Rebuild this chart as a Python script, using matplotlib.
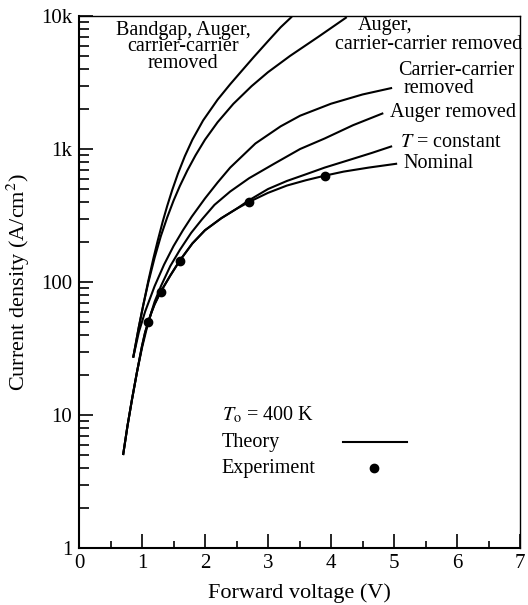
import matplotlib
matplotlib.use('Agg')
import matplotlib.pyplot as plt
from matplotlib.ticker import FixedLocator, NullFormatter

plt.rcParams['font.family'] = ['Liberation Serif', 'DejaVu Serif']
plt.rcParams['mathtext.fontset'] = 'stix'

# Curves (forward voltage in V, current density in A/cm^2)
v_bandgap = [0.86, 0.95, 1.02, 1.10, 1.18, 1.25, 1.33, 1.40, 1.48, 1.57, 1.68,
             1.80, 1.97, 2.20, 2.40, 2.60, 2.77, 3.00, 3.20, 3.38]
j_bandgap = [27, 46, 67, 102, 150, 205, 286, 373, 492, 652, 883,
             1175, 1640, 2350, 3070, 3950, 4890, 6470, 8220, 9900]

v_auger_cc = [0.86, 0.95, 1.02, 1.10, 1.20, 1.30, 1.40, 1.50, 1.60, 1.72, 1.85,
              2.00, 2.20, 2.45, 2.74, 3.00, 3.35, 3.80, 4.25]
j_auger_cc = [27, 46, 67, 99, 152, 222, 306, 408, 526, 690, 897,
              1175, 1590, 2185, 2970, 3780, 5010, 6980, 9800]

v_cc = [0.86, 0.95, 1.05, 1.20, 1.35, 1.50, 1.65, 1.79, 2.00, 2.20, 2.40, 2.80,
        3.20, 3.51, 4.00, 4.50, 4.97]
j_cc = [27, 42, 60, 93, 135, 186, 245, 310, 425, 560, 725, 1100,
        1480, 1780, 2190, 2570, 2880]

v_auger = [0.70, 0.77, 0.84, 0.92, 1.00, 1.10, 1.20, 1.30, 1.45, 1.60, 1.78, 1.95,
           2.15, 2.40, 2.70, 3.10, 3.51, 3.90, 4.35, 4.83]
j_auger = [5, 8.3, 13, 21, 32, 50, 71, 93, 132, 174, 234, 295,
           380, 479, 603, 776, 1000, 1200, 1510, 1860]

v_tconst = [0.70, 0.77, 0.84, 0.92, 1.00, 1.05, 1.10, 1.15, 1.20, 1.30, 1.45, 1.60,
            1.80, 2.00, 2.26, 2.50, 2.70, 3.00, 3.30, 3.60, 3.90, 4.30, 4.65, 4.97]
j_tconst = [5, 8.3, 13, 21, 33, 42, 50, 59, 68, 85, 112, 145,
            195, 245, 302, 355, 412, 500, 575, 645, 725, 830, 935, 1050]

v_nominal = [0.70, 0.77, 0.84, 0.92, 1.00, 1.05, 1.10, 1.15, 1.20, 1.30, 1.45, 1.60,
             1.80, 2.00, 2.26, 2.50, 2.70, 3.00, 3.30, 3.60, 3.90, 4.20, 4.60, 5.05]
j_nominal = [5, 8.3, 13, 21, 33, 42, 50, 59, 68, 85, 112, 145,
             195, 245, 302, 355, 400, 468, 531, 582, 630, 676, 725, 776]

# Experimental points
v_exp = [1.1, 1.3, 1.6, 2.7, 3.9]
j_exp = [50, 84, 145, 400, 630]

y_ticks = [1, 10, 100, 1000, 10000]
y_tick_labels = ['1', '10', '100', '1k', '10k']

fig = plt.figure(figsize=(5.28, 6.05), dpi=100)
ax = fig.add_axes([79 / 528, 57 / 605, 441 / 528, 532 / 605])

lw = 1.5
for v, j in [(v_bandgap, j_bandgap), (v_auger_cc, j_auger_cc), (v_cc, j_cc),
             (v_auger, j_auger), (v_tconst, j_tconst), (v_nominal, j_nominal)]:
    ax.plot(v, j, color='black', linewidth=lw, solid_capstyle='butt')
ax.plot(v_exp, j_exp, 'o', color='black', markersize=6)

ax.set_yscale('log')
ax.set_xlim(0, 7)
ax.set_ylim(1, 10000)
ax.set_yticks(y_ticks)
ax.set_yticklabels(y_tick_labels)
minor = [m * 10 ** e for e in range(4) for m in range(2, 10)]
ax.yaxis.set_minor_locator(FixedLocator(minor))
ax.yaxis.set_minor_formatter(NullFormatter())
ax.set_xticks(range(8))
ax.set_xticks([0.5 + i for i in range(7)], minor=True)

ax.tick_params(which='both', direction='in', top=False, right=False, width=1.2)
ax.tick_params(which='major', length=10, labelsize=15)
ax.tick_params(axis='y', which='major', pad=5)
ax.tick_params(axis='x', which='major', pad=4)
ax.tick_params(axis='y', which='minor', length=7)
ax.tick_params(axis='x', which='minor', length=5)
for s in ['left', 'bottom']:
    ax.spines[s].set_linewidth(1.5)
for s in ['top', 'right']:
    ax.spines[s].set_linewidth(1.0)

ax.set_xlabel('Forward voltage (V)', fontsize=16, labelpad=8)
ax.set_ylabel('Current density (A/cm$^2$)', fontsize=16, labelpad=6)

fs = 14.5
ax.text(0.236, 0.942, 'Bandgap, Auger,\ncarrier-carrier\nremoved', transform=ax.transAxes,
        ha='center', va='center', multialignment='center', fontsize=fs, linespacing=0.8)
ax.text(0.633, 0.982, 'Auger,', transform=ax.transAxes, ha='left', va='center', fontsize=fs)
ax.text(1.005, 0.947, 'carrier-carrier removed', transform=ax.transAxes,
        ha='right', va='center', fontsize=fs, clip_on=False)
ax.text(0.723, 0.897, 'Carrier-carrier', transform=ax.transAxes, ha='left', va='center', fontsize=fs)
ax.text(0.737, 0.864, 'removed', transform=ax.transAxes, ha='left', va='center', fontsize=fs)
ax.text(0.705, 0.818, 'Auger removed', transform=ax.transAxes, ha='left', va='center', fontsize=fs)
ax.text(0.728, 0.763, '$T$ = constant', transform=ax.transAxes, ha='left', va='center', fontsize=fs)
ax.text(0.735, 0.722, 'Nominal', transform=ax.transAxes, ha='left', va='center', fontsize=fs)

# legend block
ax.text(0.324, 0.250, '$T_\\mathrm{o}$ = 400 K', transform=ax.transAxes, ha='left', va='center', fontsize=fs)
ax.text(0.324, 0.199, 'Theory', transform=ax.transAxes, ha='left', va='center', fontsize=fs)
ax.text(0.324, 0.150, 'Experiment', transform=ax.transAxes, ha='left', va='center', fontsize=fs)
ax.plot([0.599, 0.744], [0.199, 0.199], color='black', linewidth=lw, transform=ax.transAxes)
ax.plot([0.669], [0.150], 'o', color='black', markersize=6, transform=ax.transAxes)

fig.savefig('out.png', dpi=100)
